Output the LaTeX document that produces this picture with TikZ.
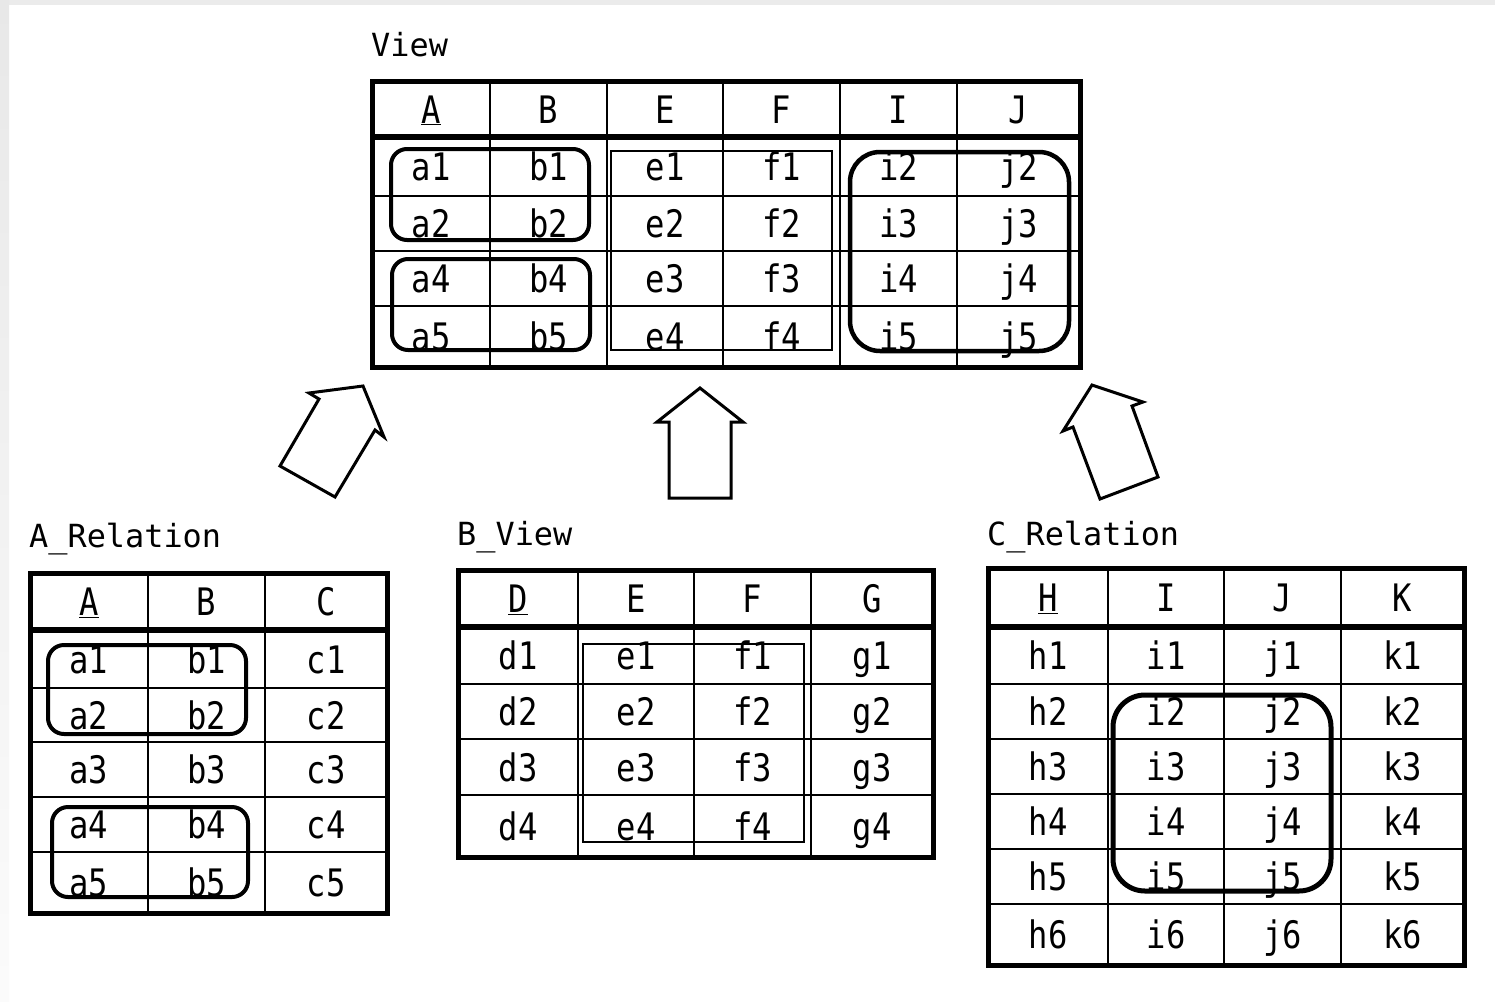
\documentclass[tikz,border=0pt]{standalone}
\usepackage{fontspec}
\newfontfamily\cellfont[FakeStretch=0.85]{DejaVu Sans Mono}
\newfontfamily\titlefont{DejaVu Sans Mono}
\begin{document}
\begin{tikzpicture}[x=1bp,y=-1bp,
  outerline/.style={line width=5bp},
  hsep/.style={line width=6bp},
  gridline/.style={line width=1.8bp},
  selbox/.style={line width=4bp, rounded corners=16bp},
  bigsel/.style={line width=4.5bp, rounded corners=30bp},
  thinbox/.style={line width=1.8bp},
  cell/.style={font=\cellfont\fontsize{38}{38}\selectfont, anchor=base, inner sep=0pt},
  ttl/.style={font=\titlefont\fontsize{32}{32}\selectfont, anchor=base west, inner sep=0pt},
  blockarrow/.style={line width=3bp, line join=miter, fill=white}]
\useasboundingbox (0,0) rectangle (1495,1001);
\fill[white] (0,0) rectangle (1495,1001);
% grey page edges
\fill[gray!16] (0,0) rectangle (1495,5);
\shade[top color=gray!18, bottom color=gray!3] (0,0) rectangle (9,1001);

% ---------------- titles ----------------
\node[ttl] (tview) at (371,56) {View};
\node[ttl] (trel) at (29,547) {A\_Relation};
\node[ttl] (tbview) at (457,545) {B\_View};
\node[ttl] (tcrel) at (987,545) {C\_Relation};

% ---------------- View table ----------------
\foreach \x in {490,607,723,840,957} \draw[gridline] (\x,81) -- (\x,367);
\foreach \y in {196,251,306} \draw[gridline] (372,\y) -- (1080,\y);
\draw[hsep] (372,137) -- (1080,137);
\draw[outerline] (372,81) rectangle (1080,367);
\foreach \x/\t/\n in {431/{\underline{A}}/A,548.5/B/B,665/E/E,781.5/F/F,898.5/I/I,1018.5/J/J}
  \node[cell] (vh-\n) at (\x,123) {\t};
\foreach \x/\t in {431/a1,548.5/b1,665/e1,781.5/f1,898.5/i2,1018.5/j2}
  \node[cell] (v-\t) at (\x,180.5) {\t};
\foreach \x/\t in {431/a2,548.5/b2,665/e2,781.5/f2,898.5/i3,1018.5/j3}
  \node[cell] (v-\t) at (\x,237.5) {\t};
\foreach \x/\t in {431/a4,548.5/b4,665/e3,781.5/f3,898.5/i4,1018.5/j4}
  \node[cell] (v-\t) at (\x,292.5) {\t};
\foreach \x/\t in {431/a5,548.5/b5,665/e4,781.5/f4,898.5/i5,1018.5/j5}
  \node[cell] (v-\t) at (\x,350.5) {\t};
\draw[selbox] (391,149) rectangle (589,240);
\draw[selbox] (392,259) rectangle (590,350);
\draw[thinbox] (611,151) rectangle (832,350);
\draw[bigsel] (850,152) rectangle (1069,351);

% ---------------- A_Relation ----------------
\foreach \x in {148,265} \draw[gridline] (\x,573) -- (\x,913);
\foreach \y in {688,742,797,852} \draw[gridline] (30,\y) -- (387,\y);
\draw[hsep] (30,630) -- (387,630);
\draw[outerline] (30,573) rectangle (387,913);
\foreach \x/\t/\n in {89/{\underline{A}}/A,206.5/B/B,326/C/C}
  \node[cell] (ah-\n) at (\x,615.5) {\t};
\foreach \y/\a/\b/\c in {673/a1/b1/c1,729/a2/b2/c2,783.5/a3/b3/c3,838.5/a4/b4/c4,896.5/a5/b5/c5}{
  \node[cell] (r-\a) at (89,\y) {\a};
  \node[cell] (r-\b) at (206.5,\y) {\b};
  \node[cell] (r-\c) at (326,\y) {\c};
}
\draw[selbox] (48,645) rectangle (246,734);
\draw[selbox] (52,807) rectangle (248,897);

% ---------------- B_View ----------------
\foreach \x in {578,694,811} \draw[gridline] (\x,570) -- (\x,857);
\foreach \y in {684,739,795} \draw[gridline] (458,\y) -- (933,\y);
\draw[hsep] (458,627) -- (933,627);
\draw[outerline] (458,570) rectangle (933,857);
\foreach \x/\t/\n in {518/{\underline{D}}/D,636/E/E,752.5/F/F,872/G/G}
  \node[cell] (bh-\n) at (\x,612.5) {\t};
\foreach \y/\d/\e/\f/\g in {669.5/d1/e1/f1/g1,725.5/d2/e2/f2/g2,781/d3/e3/f3/g3,840/d4/e4/f4/g4}{
  \node[cell] (b-\d) at (518,\y) {\d};
  \node[cell] (b-\e) at (636,\y) {\e};
  \node[cell] (b-\f) at (752.5,\y) {\f};
  \node[cell] (b-\g) at (872,\y) {\g};
}
\draw[thinbox] (583,644) rectangle (804,842);

% ---------------- C_Relation ----------------
\foreach \x in {1108,1224,1341} \draw[gridline] (\x,568) -- (\x,965);
\foreach \y in {684,739,794,849,904} \draw[gridline] (988,\y) -- (1464,\y);
\draw[hsep] (988,627) -- (1464,627);
\draw[outerline] (988,568) rectangle (1464,965);
\foreach \x/\t/\n in {1048/{\underline{H}}/H,1166/I/I,1282.5/J/J,1402.5/K/K}
  \node[cell] (ch-\n) at (\x,611.5) {\t};
\foreach \y/\h/\i/\j/\k in {669.5/h1/i1/j1/k1,725.5/h2/i2/j2/k2,780.5/h3/i3/j3/k3,835.5/h4/i4/j4/k4,890.5/h5/i5/j5/k5,948.5/h6/i6/j6/k6}{
  \node[cell] (c-\h) at (1048,\y) {\h};
  \node[cell] (c-\i) at (1166,\y) {\i};
  \node[cell] (c-\j) at (1282.5,\y) {\j};
  \node[cell] (c-\k) at (1402.5,\y) {\k};
}
\draw[line width=5bp, rounded corners=32bp] (1113,695) rectangle (1331,891);

% ---------------- block arrows ----------------
\draw[blockarrow] (280,466) -- (335,497) -- (375,430) -- (384,437) -- (363,386) -- (309,393) -- (319,399) -- cycle;
\draw[blockarrow] (669,498) -- (731,498) -- (731,422) -- (743,422) -- (700,388) -- (657,422) -- (669,422) -- cycle;
\draw[blockarrow] (1100,499) -- (1158,477) -- (1132,406) -- (1143,402) -- (1092,385) -- (1063,431) -- (1073,427) -- cycle;
\end{tikzpicture}
\end{document}
